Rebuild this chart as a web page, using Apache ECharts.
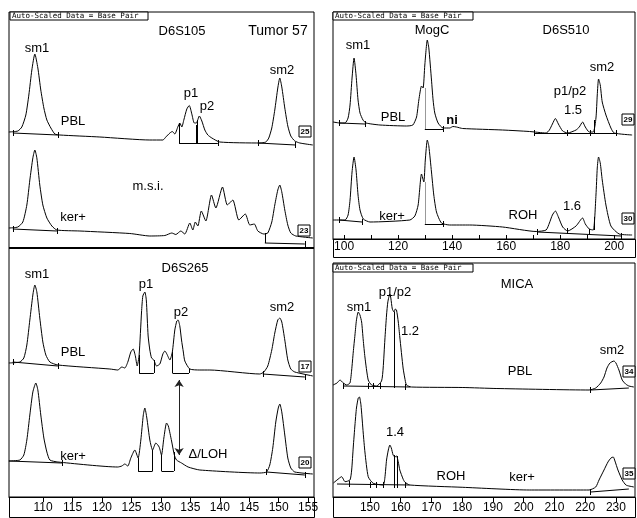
<!DOCTYPE html>
<html>
<head>
<meta charset="utf-8">
<script src="https://cdn.jsdelivr.net/npm/echarts@6/dist/echarts.min.js"></script>
<style>
html,body{margin:0;padding:0;background:#fff;}
#chart{width:637px;height:518px;}
</style>
</head>
<body>
<div id="chart"></div>
<script>
// x = base pair, y = signal height (arbitrary units)

// ---- D6S105 (left top) ----
var d6s105_pbl = [[104.18,116],[105.70,117],[106.38,121],[107.06,133],[107.57,153],[108.08,178],[108.59,194],[109.10,180],[109.60,158],[110.12,140],[110.63,128],[111.31,120],[111.99,114],[112.84,113],[119.63,111],[128.12,108],[130.33,108],[130.84,111],[131.52,115],[131.94,116.5],[132.36,114],[132.87,121],[133.21,125],[133.55,121],[133.89,128],[134.40,139],[134.82,142.5],[135.25,134],[135.67,125],[136.01,125],[136.53,132],[136.95,127],[137.46,118],[137.97,113],[138.65,110],[140.00,106],[146.80,105],[147.82,106],[148.32,110],[148.83,120],[149.34,138],[149.85,160],[150.19,170],[150.53,161],[151.04,140],[151.55,122],[152.06,112],[152.74,107],[153.59,105],[155.80,103]];
var d6s105_ker = [[104.18,20],[105.70,21],[106.55,26],[107.23,43],[107.74,68],[108.25,90],[108.59,98],[108.93,90],[109.43,63],[109.95,43],[110.63,30],[111.48,22],[112.33,18],[116.24,17],[124.72,14.5],[128.12,12],[130.67,12.5],[131.85,15],[132.53,13.5],[133.38,17],[134.06,14],[134.91,25],[135.42,18],[135.84,26],[136.27,22],[136.86,37],[137.63,27],[138.59,53],[139.33,40],[140.46,61],[141.28,43],[142.21,48],[143.23,28],[144.33,34],[145.10,23],[145.86,24],[146.46,17],[147.48,14],[148.15,15],[148.83,26],[149.34,43],[149.85,58],[150.19,63],[150.53,56],[151.04,38],[151.55,23],[152.06,15],[152.91,12],[155.80,10]];
var d6s105_pbl_marks = [
  [[104.85,115],[112.5,113]],[[104.85,112],[104.85,118]],[[112.5,110],[112.5,116]],
  [[133.08,125],[133.08,105]],[[135.93,123],[135.93,105]],[[136.15,128],[136.15,105]],
  [[133.08,105],[139.66,105]],[[139.66,102],[139.66,108]],
  [[146.46,105],[152.9,103]],[[146.46,102],[146.46,108]],[[152.9,100],[152.9,106]]
];
var d6s105_ker_marks = [
  [[104.85,19],[112.33,17]],[[104.85,16],[104.85,22]],[[112.33,14],[112.33,20]],
  [[147.65,15],[147.65,5]],[[147.65,5],[154.44,4]],[[154.44,1],[154.44,7]]
];

// ---- D6S265 (left bottom) ----
var d6s265_pbl = [[104.18,134],[106.04,135],[106.72,139],[107.23,152],[107.74,177],[108.25,202],[108.59,212],[108.93,205],[109.43,179],[109.95,155],[110.46,142],[111.14,135],[112.50,132],[121.33,128],[122.68,127],[123.36,130],[123.87,129],[124.38,135],[124.89,145],[125.29,148],[125.66,141],[125.97,131],[126.30,142],[126.71,185],[126.93,201],[127.27,205],[127.52,197],[127.83,161],[128.12,147],[128.41,139],[128.80,137],[129.26,131],[129.82,133],[130.33,143],[130.67,146],[131.01,143],[131.52,137],[131.94,145],[132.36,167],[132.70,176],[132.92,177],[133.21,171],[133.50,157],[133.81,145],[134.06,136],[134.91,128],[136.61,127],[138.31,127],[146.80,123],[147.48,125],[148.15,131],[148.83,147],[149.34,164],[149.85,177],[150.19,179],[150.53,175],[151.04,157],[151.55,137],[152.06,128],[152.74,125],[155.80,121]];
var d6s265_ker = [[104.18,36],[106.04,37],[106.72,42],[107.23,57],[107.74,82],[108.25,105],[108.76,114],[109.10,107],[109.60,82],[110.12,59],[110.63,45],[111.14,37],[112.50,35],[122.68,30],[123.36,31],[123.87,33],[124.38,31],[124.89,39],[125.57,47],[126.13,39],[126.59,57],[127.01,82],[127.27,89],[127.61,79],[128.12,57],[128.58,47],[129.14,54],[129.70,50],[130.10,42],[130.50,59],[130.96,74],[131.26,71],[131.81,56],[132.28,42],[132.65,37],[133.50,34],[134.62,30],[136.61,27],[146.80,24],[147.93,25],[148.49,32],[149.00,49],[149.51,75],[149.93,89],[150.19,93],[150.53,85],[151.04,62],[151.55,39],[152.06,29],[152.74,25],[155.80,23]];
var d6s265_pbl_marks = [
  [[104.85,135],[112.5,131]],[[104.85,132],[104.85,138]],[[112.5,128],[112.5,134]],
  [[126.30,142],[126.30,124]],[[128.80,137],[128.80,124]],[[126.30,124],[128.80,124]],
  [[131.97,145],[131.97,124]],[[134.77,128],[134.77,124]],[[131.97,124],[134.77,124]],
  [[147.3,123],[154.44,120]],[[147.3,120],[147.3,126]],[[154.44,117],[154.44,123]]
];
var d6s265_ker_marks = [
  [[104.18,36],[113.2,34]],[[113.2,31],[113.2,37]],
  [[126.13,39],[126.13,26]],[[128.58,47],[128.58,26]],[[126.13,26],[128.58,26]],
  [[130.10,42],[130.10,26]],[[132.19,45],[132.19,26]],[[130.10,26],[132.19,26]],
  [[147.93,25],[154.44,22]],[[147.93,22],[147.93,28]],[[154.44,19],[154.44,25]]
];
var loh_arrow = [[133.09,117],[133.09,42]];

// ---- D6S510 (right top) ----
var d6s510_pbl = [[95.94,117],[98.52,116],[100.37,116],[101.48,121],[102.21,134],[102.95,161],[103.69,181],[104.43,164],[105.17,139],[105.90,126],[107.01,119],[108.12,116],[113.28,114],[123.14,113],[125.46,114],[126.83,122],[127.68,139],[128.67,153],[129.26,151],[129.89,174],[130.81,199],[131.37,191],[132.36,159],[132.95,139],[133.58,126],[134.80,116],[136.64,111],[139.11,111],[140.3,112.5],[141.59,112],[143.91,110.5],[158.67,109],[168.63,107.5],[174.80,106],[176.01,109],[177.12,115],[178.23,120.5],[179.34,115],[180.92,108],[182.77,106],[185.87,109],[187.08,112],[188.30,117],[189.30,112],[190.77,107],[192.25,107],[193.25,121],[193.73,144],[194.21,160],[194.84,154],[195.57,137],[196.94,124],[198.78,111],[200.00,106],[206.64,104]];
var d6s510_ker = [[95.94,19],[100.37,19],[101.48,24],[102.21,39],[102.95,67],[103.69,82],[104.43,69],[105.17,44],[105.90,29],[107.12,20],[109.59,17],[124.35,19],[126.20,23],[127.42,34],[128.67,65],[129.52,57],[130.07,79],[130.81,99],[131.37,93],[132.36,67],[133.21,44],[134.21,27],[136.05,16],[139.11,14],[146.49,14],[158.67,12],[171.11,7.5],[174.80,9],[176.01,16],[177.12,24],[178.23,28],[179.34,22],[180.92,12],[182.77,8],[185.87,13],[188.30,21],[189.30,15],[190.77,10],[192.25,9],[193.25,44],[193.73,71],[194.21,82],[194.84,76],[195.57,59],[196.94,34],[198.78,13],[201.85,5],[206.64,4]];
var d6s510_pbl_marks = [
  [[98.15,116],[107.75,115]],[[98.15,113],[98.15,119]],[[107.75,112],[107.75,118]],
  [[129.89,110],[136.64,110]],[[136.64,107],[136.64,113]],
  [[170.48,106],[200.74,106]],[[170.48,103],[170.48,109]],[[182.66,103],[182.66,109]],[[191.14,103],[191.14,109]],[[192.62,119],[192.62,106]],[[200.74,103],[200.74,109]]
];
var d6s510_ker_marks = [
  [[98.15,19],[106.64,17]],[[98.15,16],[98.15,22]],[[106.64,14],[106.64,20]],
  [[129.89,15],[136.64,15]],[[136.64,12],[136.64,18]],
  [[171.6,7],[202.6,3]],[[171.6,4],[171.6,10]],[[182.77,5],[182.77,11]],[[190.77,4],[190.77,10]],[[192.62,9],[192.62,22]],[[202.6,0],[202.6,6]]
];
var mogc_guides = [[[129.89,151],[129.89,110]],[[129.89,57],[129.89,15]]];

// ---- MICA (right bottom) ----
var mica_pbl = [[138.02,112],[139.31,114],[140.28,117],[141.35,114],[142.45,112],[143.52,114],[144.07,127],[144.59,145],[145.14,162],[145.63,177],[146.21,185],[146.76,182],[147.31,175],[147.83,157],[148.38,140],[149.45,117],[150.55,112],[152.17,111],[153.79,116],[154.31,129],[154.86,157],[155.41,182],[155.83,195],[156.48,203],[156.80,199],[157.29,188],[157.87,185],[158.26,188],[158.65,187],[159.23,175],[159.72,160],[160.79,129],[161.34,119],[161.89,112],[163.51,110],[180.22,109.5],[191.04,108.5],[221.26,107],[223.43,109],[225.05,114],[226.12,120],[227.09,129],[228.06,134],[229.36,136],[230.00,134],[230.97,127],[232.04,117],[233.14,113],[234.21,111],[235.83,110]];
var mica_ker = [[138.13,14],[139.31,17],[140.83,20.3],[141.91,15.3],[143.52,17],[144.07,27],[144.59,50],[145.14,72],[145.63,89],[146.21,99],[146.60,100],[147.09,92],[147.83,64],[148.38,45],[149.45,20.3],[151.07,13.7],[154.31,12],[154.86,19],[155.41,37],[155.99,47],[156.48,52],[156.96,49],[157.55,42],[158.10,40],[158.65,41],[159.23,35],[159.72,27],[160.79,18],[161.34,15],[162.96,12],[180.22,9.7],[201.82,7],[221.26,7],[223.43,10],[224.50,17],[226.12,27],[227.41,35],[228.38,39],[229.13,40],[229.68,36],[230.65,27],[232.04,17],[233.24,12],[234.21,11],[235.83,10]];
var mica_pbl_marks = [
  [[141.25,111],[163.2,110]],[[141.25,108],[141.25,114]],[[149.4,108],[149.4,114]],[[151,108],[151,114]],[[153.4,108],[153.4,114]],[[161.6,107],[161.6,113]],
  [[157.87,185],[157.87,109]],
  [[221.81,107],[234.2,109]],[[221.81,104],[221.81,110]]
];
var mica_ker_marks = [
  [[139.3,13],[162.9,12]],[[143.2,10],[143.2,16]],[[150.1,9],[150.1,15]],[[152.1,9],[152.1,15]],[[154.4,9],[154.4,15]],[[161.6,9],[161.6,15]],
  [[157.87,42],[157.87,9]],[[158.97,41],[158.97,9]],
  [[221.81,5],[234.2,8]],[[221.81,2],[221.81,8]]
];

// ---- axis ticks / labels ----
var left_ticks = [110,115,120,125,130,135,140,145,150,155];
var d6s510_ticks = [100,110,120,130,140,150,160,170,180,190,200];
var d6s510_labels = [100,120,140,160,180,200];
var mica_ticks = [150,160,170,180,190,200,210,220,230];

var font = 'Liberation Sans, Arial, sans-serif';

function trace(data, gi) {
  return {type:'line', xAxisIndex:gi, yAxisIndex:gi, data:data, showSymbol:false, symbol:'none',
    smooth:0.2, lineStyle:{color:'#000', width:1}, silent:true};
}
function marks(segs, gi, color) {
  return {type:'lines', coordinateSystem:'cartesian2d', xAxisIndex:gi, yAxisIndex:gi, polyline:false,
    silent:true, lineStyle:{color:color || '#000', width:1, opacity:1},
    data:segs.map(function(c){ return {coords:c}; })};
}
function txt(s, x, y, size, bold) {
  return {type:'text', x:x, y:y, silent:true, style:{text:s, fill:'#000', fontSize:size || 13,
    fontFamily:font, fontWeight:bold ? 'bold' : 'normal',
    align:'center', verticalAlign:'middle', textAlign:'center', textVerticalAlign:'middle'}};
}
function numbox(s, x, y) {
  return [
    {type:'rect', shape:{x:x, y:y, width:12, height:11}, style:{fill:'#fff', stroke:'#000', lineWidth:1}, silent:true},
    txt(s, x + 6, y + 6, 8, true)
  ];
}
function autobox(x, y, w) {
  return [
    {type:'rect', shape:{x:x, y:y, width:w, height:8}, style:{fill:'#fff', stroke:'#000', lineWidth:1}, silent:true},
    {type:'text', x:x + 2, y:y + 4.5, silent:true, style:{text:'Auto-Scaled Data = Base Pair', fill:'#000',
      fontSize:7.5, fontFamily:'DejaVu Sans Mono, monospace', align:'left', verticalAlign:'middle', textAlign:'left', textVerticalAlign:'middle'}}
  ];
}
function frame(x, y, w, h) {
  return {type:'rect', shape:{x:x, y:y, width:w, height:h}, style:{fill:'none', stroke:'#000', lineWidth:1}, silent:true};
}

var gridBase = {show:true, borderColor:'#000', borderWidth:1, backgroundColor:'transparent', containLabel:false};
var graphics = [
  frame(9.5, 497.5, 305, 20), frame(333.5, 239.5, 302, 18), frame(333.5, 497.5, 302, 20),
  {type:'line', shape:{x1:9, y1:248, x2:314, y2:248}, style:{stroke:'#000', lineWidth:2}, silent:true},
  txt('D6S105', 182, 31), txt('Tumor 57', 278, 31, 14), txt('sm1', 37, 48), txt('sm2', 282, 70),
  txt('p1', 191, 93), txt('p2', 207, 106), txt('PBL', 73, 121), txt('m.s.i.', 148, 186), txt('ker+', 73, 217),
  txt('D6S265', 185, 268), txt('sm1', 37, 274), txt('p1', 146, 284), txt('p2', 181, 312), txt('sm2', 282, 307),
  txt('PBL', 73, 352), txt('ker+', 73, 456), txt('\u0394/LOH', 208, 454),
  txt('sm1', 358, 45), txt('MogC', 432, 30), txt('D6S510', 566, 30), txt('sm2', 602, 67), txt('p1/p2', 570, 91),
  txt('1.5', 573, 110), txt('PBL', 393, 117), txt('ni', 452, 120, 13, true), txt('ker+', 392, 216),
  txt('ROH', 523, 215), txt('1.6', 572, 206),
  txt('MICA', 517, 284), txt('p1/p2', 395, 292), txt('sm1', 359, 307), txt('1.2', 410, 331), txt('sm2', 612, 350),
  txt('PBL', 520, 371), txt('1.4', 395, 432), txt('ROH', 451, 476), txt('ker+', 522, 477)
];
graphics = graphics
  .concat(numbox('25', 299, 126)).concat(numbox('23', 298, 225)).concat(numbox('17', 299, 361)).concat(numbox('20', 299, 457))
  .concat(numbox('29', 622, 114)).concat(numbox('30', 622, 213)).concat(numbox('34', 623, 366)).concat(numbox('35', 623, 468))
  .concat(autobox(10, 12, 138)).concat(autobox(333, 12, 140)).concat(autobox(333, 264, 140));

var tickLabel = {color:'#000', fontSize:12, fontFamily:font};

var option = {
  animation:false,
  backgroundColor:'#fff',
  grid:[
    Object.assign({left:9, top:12, width:305, height:236}, gridBase),
    Object.assign({left:9, top:248, width:305, height:249}, gridBase),
    Object.assign({left:333, top:12, width:302, height:227}, gridBase),
    Object.assign({left:333, top:263, width:302, height:234}, gridBase)
  ],
  xAxis:[
    {gridIndex:0, type:'value', min:104.2, max:156, show:false},
    {gridIndex:1, type:'value', min:104.2, max:156,
      axisLine:{lineStyle:{color:'#000'}}, splitLine:{show:false},
      axisTick:{customValues:left_ticks, length:5, lineStyle:{color:'#000'}},
      axisLabel:Object.assign({customValues:left_ticks, margin:5}, tickLabel)},
    {gridIndex:2, type:'value', min:95.9, max:207.7,
      axisLine:{lineStyle:{color:'#000'}}, splitLine:{show:false},
      axisTick:{customValues:d510_ticks_safe(), inside:true, length:4, lineStyle:{color:'#000'}},
      axisLabel:Object.assign({customValues:d6s510_labels, margin:2}, tickLabel)},
    {gridIndex:3, type:'value', min:138, max:236.2,
      axisLine:{lineStyle:{color:'#000'}}, splitLine:{show:false},
      axisTick:{customValues:mica_ticks, length:5, lineStyle:{color:'#000'}},
      axisLabel:Object.assign({customValues:mica_ticks, margin:5}, tickLabel)}
  ],
  yAxis:[
    {gridIndex:0, type:'value', min:0, max:236, show:false},
    {gridIndex:1, type:'value', min:0, max:249, show:false},
    {gridIndex:2, type:'value', min:0, max:227, show:false},
    {gridIndex:3, type:'value', min:0, max:234, show:false}
  ],
  graphic:graphics,
  series:[
    trace(d6s105_pbl, 0), trace(d6s105_ker, 0), marks(d6s105_pbl_marks, 0), marks(d6s105_ker_marks, 0),
    trace(d6s265_pbl, 1), trace(d6s265_ker, 1), marks(d6s265_pbl_marks, 1), marks(d6s265_ker_marks, 1),
    {type:'lines', coordinateSystem:'cartesian2d', xAxisIndex:1, yAxisIndex:1, silent:true,
      symbol:['arrow','arrow'], symbolSize:7, lineStyle:{color:'#222', width:1, opacity:1},
      data:[{coords:loh_arrow}]},
    trace(d6s510_pbl, 2), trace(d6s510_ker, 2), marks(d6s510_pbl_marks, 2), marks(d6s510_ker_marks, 2),
    marks(mogc_guides, 2, '#999'),
    trace(mica_pbl, 3), trace(mica_ker, 3), marks(mica_pbl_marks, 3), marks(mica_ker_marks, 3)
  ]
};
function d510_ticks_safe(){ return d6s510_ticks; }

var myChart = echarts.init(document.getElementById('chart'));
myChart.setOption(option);
</script>
</body>
</html>
